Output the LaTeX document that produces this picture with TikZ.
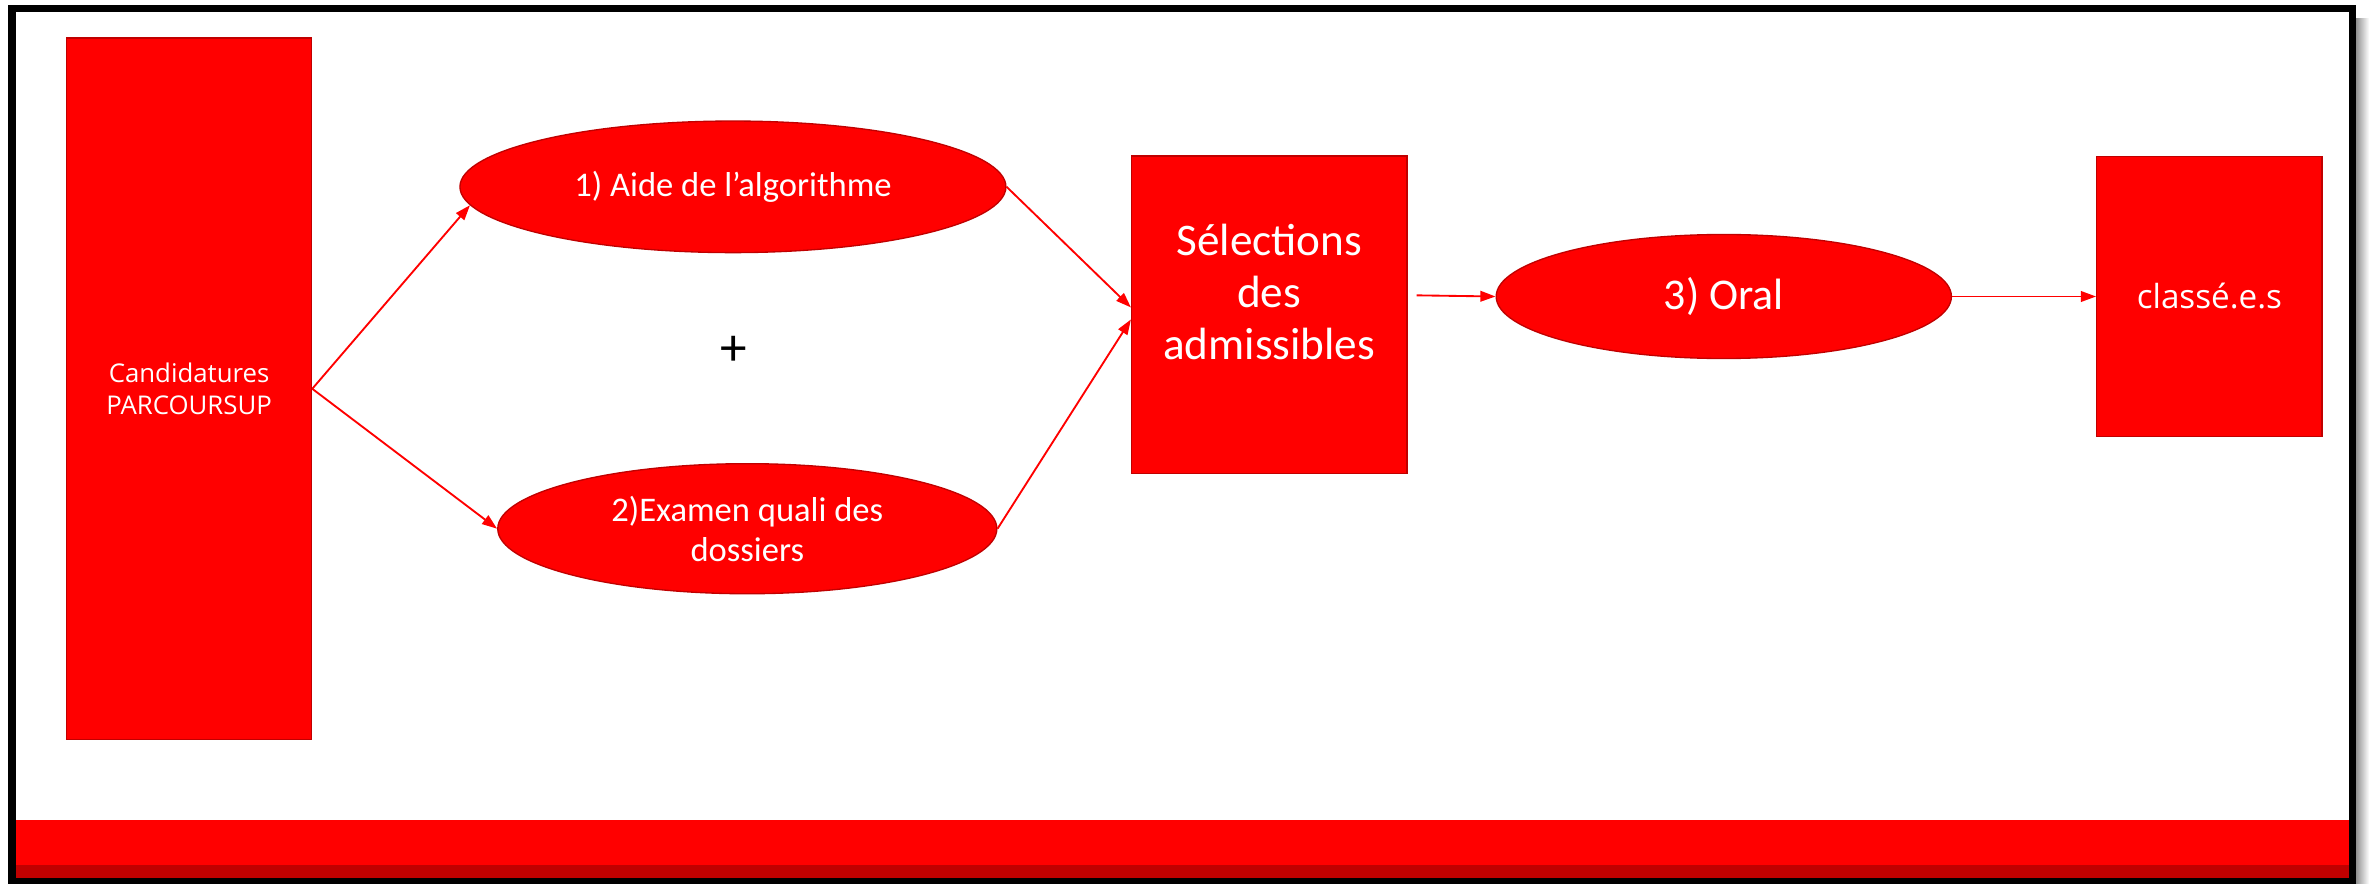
\documentclass[tikz,border=0pt]{standalone}
\usepackage{fontspec}
\setmainfont{Carlito}
\newfontfamily\widefont{Open Sans}
\usetikzlibrary{arrows.meta,shapes.geometric}
\definecolor{pptred}{HTML}{FF0000}
\definecolor{pptdark}{HTML}{C00000}
\tikzset{
  redbox/.style={rectangle, fill=pptred, draw=pptdark, line width=0.5pt, text=white, align=center, inner sep=0pt},
  redoval/.style={ellipse, fill=pptred, draw=pptdark, line width=0.5pt, text=white, align=center, inner sep=0pt},
  arr/.style={-{Triangle[length=0.2cm,width=0.14cm]}, pptred, line width=0.7pt}
}

\begin{document}
\begin{tikzpicture}[x=0.02cm, y=-0.02cm]
\useasboundingbox (0,0) rectangle (1568,584);

% === FRAME ===
\shade[left color=black!45, right color=white] (1557,12) rectangle (1566,584);
\fill[pptred] (10,542) rectangle (1553,572);
\fill[pptdark] (10,572) rectangle (1553,581);
\draw[line width=0.1cm] (8,5.5) rectangle (1555,583);

% === LEFT: applications ===
\node[redbox, minimum width=3.24cm, minimum height=9.28cm, font={\widefont\fontsize{9.7}{12.2}\selectfont}] (can) at (125,257) {Candidatures\\PARCOURSUP};

% === MIDDLE: the two steps ===
\node[redoval, minimum width=7.22cm, minimum height=1.74cm, font={\fontsize{13}{15.5}\selectfont}] (alg) at (484.5,123.5) {1) Aide de l’algorithme};
\node[font={\fontsize{20}{24}\selectfont}] (plus) at (485,232) {+};
\node[redoval, minimum width=6.6cm, minimum height=1.72cm, font={\fontsize{13}{15}\selectfont}] (exa) at (494,349.5) {2)Examen quali des\\dossiers};

% === RIGHT: selection, oral, ranking ===
\node[redbox, minimum width=3.64cm, minimum height=4.2cm, text depth=0.6cm, font={\fontsize{17}{19.5}\selectfont}] (sel) at (839,208) {Sélections\\des\\admissibles};
\node[redoval, minimum width=6.02cm, minimum height=1.64cm, font={\fontsize{16.5}{19}\selectfont}] (oral) at (1139.5,196) {3) Oral};
\node[redbox, minimum width=2.98cm, minimum height=3.7cm, font={\widefont\fontsize{12.5}{15}\selectfont}] (cls) at (1460.5,196) {classé.e.s};

% === ARROWS ===
\draw[arr] (can.east) -- (alg.184);
\draw[arr] (can.east) -- (exa.west);
\draw[arr] (alg.east) -- (sel.177.5);
\draw[arr] (exa.east) -- (sel.182.5);
\draw[arr, shorten <=0.12cm] (sel.8.5) -- (oral.west);
\draw[arr] (oral.east) -- (cls.west);

\end{tikzpicture}
\end{document}
